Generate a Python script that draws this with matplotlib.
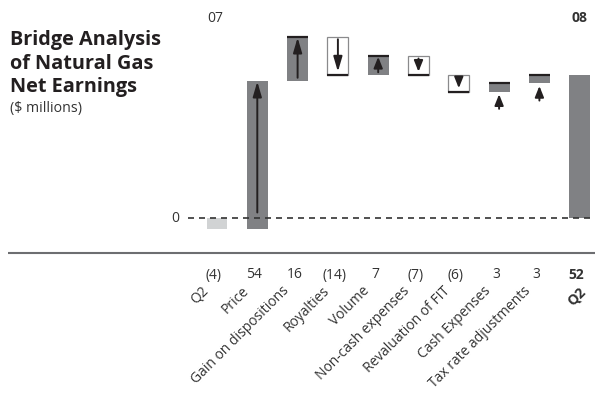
import numpy as np
import matplotlib.pyplot as plt

plt.rcParams['font.family'] = ['Open Sans', 'DejaVu Sans']

# Q2 2007 -> Q2 2008 natural gas net earnings bridge ($ millions)
labels = ['Q2', 'Price', 'Gain on dispositions', 'Royalties', 'Volume',
          'Non-cash expenses', 'Revaluation of FIT', 'Cash Expenses',
          'Tax rate adjustments', 'Q2']
values = [-4, 54, 16, -14, 7, -7, -6, 3, 3, 52]
years = ['07', '08']

DARK = '#808184'
LIGHT = '#d1d3d4'
INK = '#231f20'
TEXT = '#333333'

W, H = 595, 393
x0, step = 217, 40.3   # pixel centre of first column, pixels per column
y0, unit = 218, 2.75   # pixel row of zero, pixels per $ million

fig = plt.figure(figsize=(W / 100, H / 100), dpi=100)
ax = fig.add_axes([0, 0, 1, 1])
ax.set_xlim(-x0 / step, (W - x0) / step)
ax.set_ylim((y0 - H) / unit, y0 / unit)
ax.axis('off')


def px_x(p):
    return (p - x0) / step


def px_y(p):
    return (y0 - p) / unit


# bar extents: first and last are totals from zero, the rest are steps
starts, ends = [], []
run = 0
for i, v in enumerate(values):
    if i == 0 or i == len(values) - 1:
        s, e = 0, v
    else:
        s, e = run, run + v
    starts.append(s)
    ends.append(e)
    run = e

n = len(values)
w = 0.52

for i in range(n):
    s, e = starts[i], ends[i]
    lo, hi = min(s, e), max(s, e)
    if i == 0:
        ax.bar(i, hi - lo, bottom=lo, width=w, color=LIGHT, zorder=2)
    elif i == n - 1 or values[i] > 0:
        ax.bar(i, hi - lo, bottom=lo, width=w, color=DARK, zorder=2)
    else:
        ax.bar(i, hi - lo, bottom=lo, width=w, color='white',
               edgecolor='#8a8a8c', linewidth=0.9, zorder=2)

    if 1 < i < n - 1:
        # closing level of each step
        ax.hlines(e, i - w / 2, i + w / 2, color=INK, lw=1.6, zorder=4)

    if 0 < i < n - 1:
        sgn = 1 if values[i] > 0 else -1
        if abs(values[i]) >= 5:
            tail = s + sgn * 1.0 if s >= 0 else 2
            tip = e - sgn * (0.4 if sgn > 0 else 1.2)
            hl = 0.75 if abs(values[i]) > 10 else 0.55
        else:
            # step too short: arrow sits underneath the bar
            tip = lo - 1.0
            tail = tip - 5.3
            hl = 0.55
        ax.annotate('', xy=(i, tip), xytext=(i, tail),
                    arrowprops=dict(arrowstyle=f'-|>,head_length={hl},head_width=0.22',
                                    mutation_scale=12, color=INK, lw=1.4,
                                    shrinkA=0, shrinkB=0),
                    zorder=5)

# zero line and separator
ax.plot([px_x(188), px_x(W)], [0, 0], color=TEXT, lw=1.2,
        dashes=(3.6, 3.0), zorder=3)
ax.text(px_x(175), 0, '0', ha='center', va='center', fontsize=10, color=TEXT)
ax.plot([px_x(8), px_x(W)], [px_y(253), px_y(253)], color='#6d6e71', lw=1.5,
        solid_capstyle='butt')

# value row
for i, v in enumerate(values):
    txt = f'({abs(v)})' if v < 0 else f'{v}'
    ax.text(i - 3 / step, px_y(275), txt, ha='center', va='center', fontsize=10,
            color=TEXT, fontweight='bold' if i == n - 1 else 'normal')

# rotated category names
for i, lab in enumerate(labels):
    if i == n - 1:
        ax.text(i + 4 / step, px_y(290), lab, rotation=45, rotation_mode='anchor',
                ha='right', va='center', fontsize=10.3, color=TEXT,
                fontweight='bold')
    else:
        ax.text(i - 11 / step, px_y(289), lab, rotation=45, rotation_mode='anchor',
                ha='right', va='center', fontsize=10, color=TEXT)

# year headers
ax.text(-2 / step, px_y(18), years[0], ha='center', va='center', fontsize=10,
        color=TEXT)
ax.text(n - 1, px_y(18), years[1], ha='center', va='center', fontsize=10,
        fontweight='bold', color=TEXT)

# title block
for line, base in zip(['Bridge Analysis', 'of Natural Gas', 'Net Earnings'],
                      [45, 69, 92]):
    fig.text(10 / W, 1 - base / H, line, fontsize=14.3, fontweight='bold',
             color=INK, va='baseline')
fig.text(10 / W, 1 - 112 / H, '($ millions)', fontsize=10.2, color=TEXT,
         va='baseline')

fig.savefig('out.png', dpi=100)
